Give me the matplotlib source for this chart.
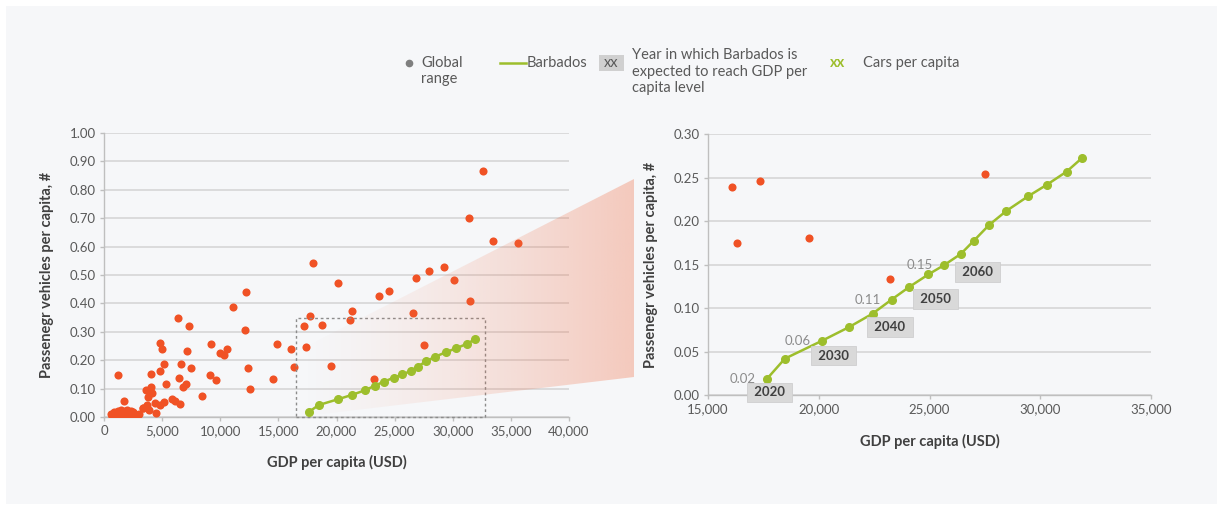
"""
Passenger vehicles per capita vs GDP per capita: global range and the
projected Barbados path, with a zoomed view of the Barbados trajectory.
"""
import matplotlib
matplotlib.use("Agg")
import matplotlib.pyplot as plt
from matplotlib.patches import Polygon, Rectangle
from matplotlib.ticker import FuncFormatter, MultipleLocator
import numpy as np

plt.rcParams.update({
    "font.family": ["Lato", "DejaVu Sans"],
    "font.size": 10,
})

W, H = 1217, 509

ORANGE = "#F05225"
GREEN = "#9DBE2C"
GRID = "#d9d9d9"
SPINE = "#bfbfbf"
TICK_TXT = "#595959"
LABEL_TXT = "#404040"
BG = "#f6f7f9"

# Global range: one point per country
gdp_global = [
    32630, 31420, 33450, 35620, 18000, 29260, 27920, 26810, 20160, 30080,
    24520, 23690, 12210, 31510, 11100, 21370, 21120, 26550, 17680, 17200,
    18730, 6330, 7280, 12150, 4830, 4990, 9190, 7120, 16073, 17364,
    14850, 10620, 10020, 10340, 5180, 6650, 7470, 12430, 16306, 19557,
    1240, 4040, 4800, 6460, 9090, 9640, 14560, 23227, 27488, 5370,
    7030, 6770, 12560, 4040, 3630, 4130, 3750, 8430, 1720, 5150,
    4360, 5880, 6110, 6580, 4800, 3690, 4450, 3340, 3880, 3350,
    600, 700, 800, 900, 1000, 1100, 1200, 1300, 1400, 1500,
    1600, 1700, 1800, 1900, 2000, 2100, 2200, 2300, 2400, 2500,
    2600, 2800, 3000, 1500, 2300, 900, 1900, 2700,
]
cars_global = [
    0.865, 0.699, 0.618, 0.614, 0.544, 0.527, 0.514, 0.488, 0.472, 0.481,
    0.444, 0.427, 0.440, 0.409, 0.387, 0.375, 0.342, 0.366, 0.356, 0.322,
    0.324, 0.349, 0.319, 0.306, 0.260, 0.238, 0.258, 0.234, 0.2395, 0.2467,
    0.258, 0.240, 0.224, 0.218, 0.185, 0.185, 0.172, 0.172, 0.1747, 0.1812,
    0.147, 0.153, 0.162, 0.139, 0.147, 0.132, 0.134, 0.1341, 0.2548, 0.116,
    0.115, 0.105, 0.098, 0.105, 0.094, 0.086, 0.071, 0.073, 0.058, 0.053,
    0.051, 0.065, 0.055, 0.046, 0.044, 0.044, 0.015, 0.032, 0.026, 0.030,
    0.010, 0.005, 0.012, 0.003, 0.008, 0.015, 0.020, 0.006, 0.010, 0.018,
    0.004, 0.012, 0.022, 0.008, 0.025, 0.015, 0.005, 0.020, 0.010, 0.018,
    0.003, 0.008, 0.012, 0.025, 0.003, 0.016, 0.014, 0.010,
]

# Barbados projection, every 5 years
years = list(range(2020, 2101, 5))
gdp_bb = [17644, 18468, 20132, 21376, 22434, 23289, 24082, 24953, 25669,
          26415, 27006, 27691, 28468, 29448, 30303, 31190, 31905]
cars_bb = [0.0184, 0.0421, 0.0625, 0.0785, 0.0939, 0.1100, 0.1245, 0.1390,
           0.1498, 0.1625, 0.1778, 0.1958, 0.2119, 0.2287, 0.2421, 0.2571,
           0.2732]

year_tags = [2020, 2030, 2040, 2050, 2060]
value_tags = [2020, 2030, 2045, 2060]

# zoom window shown on the right
zoom_x = (16550, 32780)
zoom_y = 0.347


def px(x, y):
    """figure pixel (from top-left) -> figure fraction"""
    return x / W, 1 - y / H


def style_axes(ax):
    ax.set_facecolor("none")
    for s in ("top", "right"):
        ax.spines[s].set_visible(False)
    for s in ("left", "bottom"):
        ax.spines[s].set_color(SPINE)
        ax.spines[s].set_linewidth(1.0)
    ax.grid(axis="y", color=GRID, lw=1.3)
    ax.set_axisbelow(True)
    ax.tick_params(colors=SPINE, length=3, width=1, labelsize=9.5,
                   labelcolor=TICK_TXT, pad=3)
    ax.xaxis.set_major_formatter(FuncFormatter(lambda v, _: f"{v:,.0f}"))
    ax.yaxis.set_major_formatter(FuncFormatter(lambda v, _: f"{v:.2f}"))
    ax.set_xlabel("GDP per capita (USD)", fontsize=10.5, fontweight="bold",
                  color=LABEL_TXT, labelpad=13)
    ax.set_ylabel("Passenegr vehicles per capita, #", fontsize=10.5,
                  fontweight="bold", color=LABEL_TXT, labelpad=11)


fig = plt.figure(figsize=(W / 100, H / 100), dpi=100, facecolor="white")

# light panel behind everything
x0, y0 = px(6, 504)
fig.patches.append(Rectangle((x0, y0), 1 - x0, px(0, 6)[1] - y0,
                             transform=fig.transFigure, fc=BG, ec="none",
                             zorder=-10))

# ---- left: full global range
l, b = px(104, 417)
axL = fig.add_axes([l, b, 465 / W, 284 / H])
style_axes(axL)
axL.scatter(gdp_global, cars_global, s=34, color=ORANGE, lw=0, zorder=3)
axL.add_patch(Rectangle((zoom_x[0], 0), zoom_x[1] - zoom_x[0], zoom_y,
                        fill=False, ec="#8c8c8c", lw=1.0, ls=(0, (2, 2)),
                        zorder=5, clip_on=False))
axL.set_xlim(0, 40000)
axL.set_ylim(0, 1.0)
axL.xaxis.set_major_locator(MultipleLocator(5000))
axL.yaxis.set_major_locator(MultipleLocator(0.1))

# ---- right: zoom on the Barbados path (only countries inside the window)
l, b = px(708, 395.3)
axR = fig.add_axes([l, b, 443 / W, 261 / H])
style_axes(axR)
g = np.array(gdp_global)
c = np.array(cars_global)
inside = (g >= 15000) & (g <= 35000) & (c <= 0.30)
axR.scatter(g[inside], c[inside], s=34, color=ORANGE, lw=0, zorder=3)
axR.plot(gdp_bb, cars_bb, color=GREEN, lw=1.8, marker="o", ms=5.5,
         zorder=4)
axR.set_xlim(15000, 35000)
axR.set_ylim(0, 0.30)
axR.xaxis.set_major_locator(MultipleLocator(5000))
axR.yaxis.set_major_locator(MultipleLocator(0.05))

for yr in value_tags:
    i = years.index(yr)
    axR.annotate(f"{cars_bb[i]:.2f}", (gdp_bb[i], cars_bb[i]),
                 xytext=(-8, 0), textcoords="offset points", ha="right",
                 va="center", fontsize=9.5, color="#8c8c8c", zorder=5)

tag_offsets = [(2, -9.5), (8.5, -10.5), (12.5, -9.5), (19, -8.5), (24, -5)]
for yr, off in zip(year_tags, tag_offsets):
    i = years.index(yr)
    axR.annotate(f" {yr} ", (gdp_bb[i], cars_bb[i]), xytext=off,
                 textcoords="offset points", ha="center", va="center",
                 fontsize=9.5, fontweight="bold", color=LABEL_TXT,
                 bbox=dict(boxstyle="square,pad=0.3", fc="#d9d9d9",
                           ec="#cfcfcf", lw=0.6),
                 annotation_clip=False, zorder=6)

# ---- overlay in pixel coordinates: zoom wedge and legend
ov = fig.add_axes([0, 0, 1, 1], zorder=10)
ov.set_xlim(0, W)
ov.set_ylim(H, 0)
ov.axis("off")
ov.patch.set_alpha(0)

wedge = Polygon([(297, 351), (634, 179), (634, 377), (297, 417)],
                closed=True, fc="none", ec="none")
ov.add_patch(wedge)
grad = np.zeros((2, 256, 4))
grad[..., 0] = 240 / 255
grad[..., 1] = 112 / 255
grad[..., 2] = 72 / 255
grad[..., 3] = np.linspace(0, 1, 256) ** 1.3 * 0.34
img = ov.imshow(grad, extent=(297, 634, 417, 179), aspect="auto",
                interpolation="bilinear", zorder=1)
img.set_clip_path(wedge)

# Barbados path on the left sits above the wedge
axL_line = fig.add_axes(axL.get_position(), zorder=11)
axL_line.set_xlim(axL.get_xlim())
axL_line.set_ylim(axL.get_ylim())
axL_line.axis("off")
axL_line.patch.set_alpha(0)
axL_line.plot(gdp_bb, cars_bb, color=GREEN, lw=1.8, marker="o", ms=5.5,
              clip_on=False)

leg_kw = dict(fontsize=10.5, color=TICK_TXT, va="center")
ov.plot([408.5], [63.3], "o", color="#7f7f7f", ms=4.5)
ov.text(421, 71.3, "Global\nrange", linespacing=1.2, **leg_kw)
ov.plot([500, 525.5], [63.3, 63.3], color=GREEN, lw=1.8)
ov.text(526.5, 63.3, "Barbados", **leg_kw)
ov.add_patch(Rectangle((599, 54.5), 25, 16, fc="#d0d0d0", ec="none"))
ov.text(611.5, 62.5, "xx", ha="center", fontsize=10.5, color=TICK_TXT,
        va="center")
ov.text(632.5, 71.5,
        "Year in which Barbados is\nexpected to reach GDP per\ncapita level",
        linespacing=1.2, **leg_kw)
ov.text(829.5, 63.3, "xx", fontsize=10.5, fontweight="bold", color=GREEN,
        va="center")
ov.text(863, 63.3, "Cars per capita", **leg_kw)

fig.savefig("out.png", dpi=100, facecolor=fig.get_facecolor())
